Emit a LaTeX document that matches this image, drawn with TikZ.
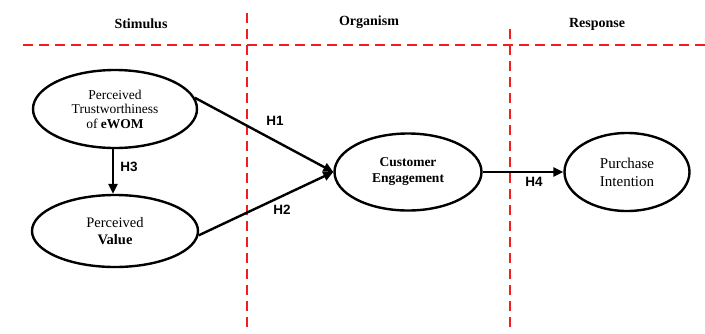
\documentclass[tikz,border=0pt]{standalone}
\usepackage{fontspec}
\setmainfont{Liberation Serif}
\newfontfamily\arialfont{Liberation Sans}
\usetikzlibrary{shapes.geometric,arrows.meta}
\definecolor{seprd}{RGB}{240,30,30}
\begin{document}
\begin{tikzpicture}[x=1pt,y=-1pt,
  sep/.style={draw=seprd, line width=1.8pt, dash pattern=on 10pt off 6pt},
  construct/.style={draw, ellipse, line width=2.4pt, inner sep=0pt, align=center},
  header/.style={font=\fontsize{14}{16}\selectfont\bfseries},
  hyp/.style={font=\arialfont\fontsize{13.5}{15}\selectfont\bfseries},
  link/.style={line width=2.4pt, -{Triangle[length=10pt,width=9pt]}}]
\useasboundingbox (0,0) rectangle (705,333);
\fill[white] (0,0) rectangle (705,333);
% separators
\coordinate (hl) at (23,45);
\coordinate (hr) at (705,45);
\coordinate (v1t) at (247,13);
\coordinate (v1b) at (247,333);
\coordinate (v2t) at (510,29);
\coordinate (v2b) at (510,333);
\draw[sep] (hl) -- (hr);
\draw[sep] (v1t) -- (v1b);
\draw[sep] (v2t) -- (v2b);
% headers
\node[header] (stim) at (141,24) {Stimulus};
\node[header] (org) at (369,22) {Organism};
\node[header] (resp) at (597,24) {Response};
% constructs
\node[construct, minimum width=164pt, minimum height=78pt,
  font=\fontsize{13.5}{14.5}\selectfont] (pt) at (115,109)
  {Perceived\\Trustworthiness\\of \textbf{eWOM}};
\node[construct, minimum width=166pt, minimum height=72pt,
  font=\fontsize{14.5}{16.5}\selectfont] (pv) at (115,231)
  {Perceived\\\textbf{Value}};
\node[construct, minimum width=147pt, minimum height=77pt,
  font=\fontsize{13.5}{16}\selectfont\bfseries] (ce) at (408,172)
  {Customer\\Engagement};
\node[construct, minimum width=125pt, minimum height=78pt,
  font=\fontsize{15}{18}\selectfont] (pi) at (627,172)
  {Purchase\\Intention};
% links
\draw[link] (pt.8) -- (ce.west);
\draw[link] (pv.-3) -- (ce.west);
\draw[link] (pt.south -| 113,0) -- (pv.north -| 113,0);
\draw[link] (ce.east) -- (pi.west);
% labels
\node[hyp] (h1) at (275,121) {H1};
\node[hyp] (h2) at (282,210) {H2};
\node[hyp] (h3) at (129,167) {H3};
\node[hyp] (h4) at (534,182) {H4};
\end{tikzpicture}
\end{document}
